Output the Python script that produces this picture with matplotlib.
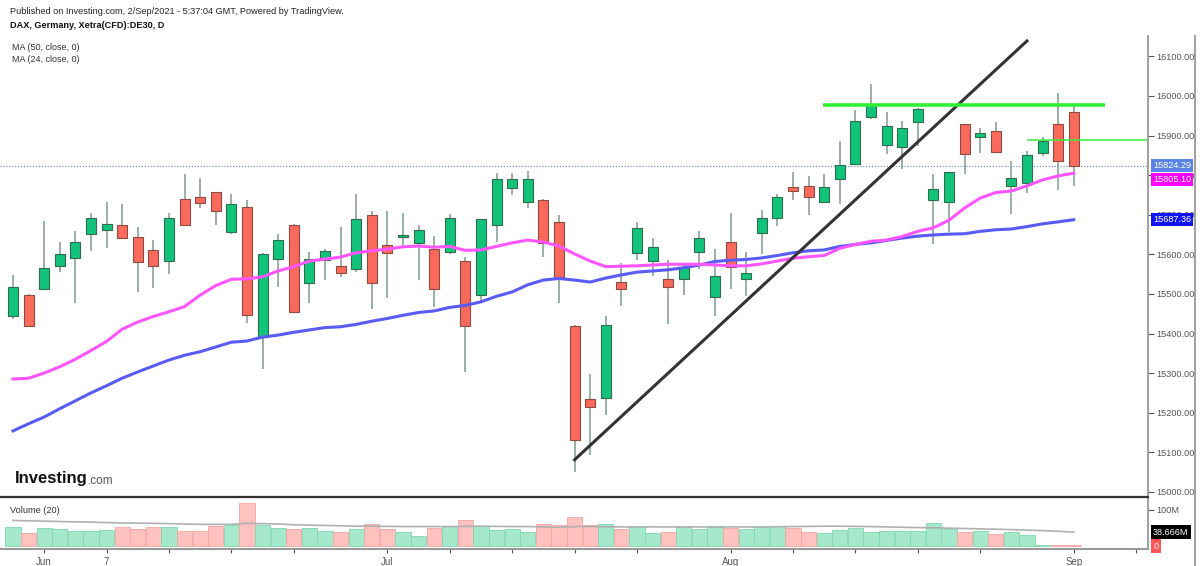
import matplotlib
matplotlib.use("Agg")
import matplotlib.pyplot as plt
from matplotlib.patches import Rectangle
from matplotlib.lines import Line2D
from matplotlib.transforms import blended_transform_factory

plt.rcParams['font.family'] = ['Liberation Sans', 'DejaVu Sans']

# daily DAX candles, 28 May .. 1 Sep 2021
opens = [15443, 15497, 15513, 15571, 15591, 15651, 15661, 15674, 15643, 15610,
         15583, 15740, 15744, 15757, 15656, 15719, 15391, 15588, 15674, 15527,
         15585, 15571, 15564, 15699, 15624, 15644, 15628, 15614, 15605, 15583,
         15496, 15674, 15768, 15733, 15737, 15682, 15420, 15234, 15238, 15531,
         15604, 15584, 15537, 15537, 15607, 15493, 15631, 15537, 15653, 15691,
         15771, 15773, 15733, 15790, 15828, 15948, 15876, 15872, 15935, 15736,
         15733, 15929, 15896, 15912, 15773, 15780, 15855, 15929, 15959]
highs = [15548, 15499, 15684, 15631, 15658, 15705, 15732, 15728, 15668, 15636,
         15704, 15802, 15792, 15758, 15752, 15736, 15604, 15651, 15676, 15607,
         15613, 15668, 15752, 15710, 15710, 15705, 15674, 15646, 15702, 15593,
         15690, 15806, 15806, 15811, 15740, 15700, 15422, 15298, 15444, 15579,
         15682, 15641, 15586, 15577, 15660, 15613, 15704, 15607, 15712, 15752,
         15808, 15798, 15802, 15886, 15965, 16030, 15960, 15938, 15969, 15803,
         15808, 15930, 15920, 15933, 15836, 15861, 15897, 16007, 15980]
lows = [15436, 15416, 15513, 15556, 15477, 15609, 15615, 15638, 15506, 15514,
        15550, 15672, 15716, 15675, 15651, 15427, 15310, 15518, 15455, 15477,
        15535, 15542, 15556, 15461, 15489, 15618, 15535, 15468, 15600, 15304,
        15480, 15632, 15749, 15718, 15593, 15477, 15049, 15092, 15194, 15470,
        15586, 15545, 15424, 15497, 15563, 15444, 15512, 15495, 15601, 15672,
        15737, 15700, 15733, 15727, 15826, 15941, 15853, 15815, 15874, 15625,
        15657, 15802, 15857, 15855, 15702, 15754, 15848, 15763, 15773]
closes = [15518, 15420, 15566, 15601, 15632, 15692, 15676, 15640, 15581, 15570,
          15692, 15674, 15729, 15710, 15727, 15447, 15601, 15635, 15455, 15588,
          15609, 15554, 15690, 15528, 15603, 15649, 15662, 15512, 15692, 15420,
          15689, 15790, 15790, 15790, 15628, 15540, 15131, 15215, 15422, 15513,
          15667, 15618, 15518, 15567, 15641, 15544, 15569, 15554, 15693, 15744,
          15760, 15744, 15771, 15826, 15938, 15977, 15925, 15920, 15966, 15764,
          15807, 15853, 15906, 15859, 15794, 15851, 15886, 15836, 15824.29]

ma50 = [15154, 15172, 15189, 15210, 15230, 15250, 15268, 15287, 15303, 15318,
        15333, 15345, 15354, 15366, 15378, 15381, 15391, 15396, 15403, 15409,
        15415, 15417, 15423, 15431, 15438, 15446, 15453, 15457, 15466, 15471,
        15480, 15494, 15505, 15523, 15535, 15539, 15535, 15530, 15540, 15548,
        15555, 15558, 15561, 15566, 15573, 15582, 15585, 15587, 15591, 15597,
        15604, 15609, 15611, 15620, 15625, 15629, 15635, 15641, 15646, 15649,
        15651, 15652, 15658, 15662, 15664, 15670, 15677, 15682, 15687.36]
ma24 = [15285, 15287, 15300, 15316, 15335, 15357, 15380, 15411, 15429, 15443,
        15455, 15468, 15497, 15521, 15537, 15538, 15543, 15558, 15569, 15583,
        15588, 15593, 15604, 15609, 15613, 15619, 15621, 15618, 15620, 15610,
        15611, 15620, 15629, 15636, 15631, 15621, 15601, 15583, 15569, 15570,
        15571, 15573, 15575, 15575, 15575, 15573, 15571, 15571, 15576, 15583,
        15590, 15594, 15597, 15615, 15625, 15633, 15636, 15645, 15658, 15667,
        15686, 15717, 15742, 15756, 15760, 15773, 15788, 15798, 15805.10]

# volume in millions, and its 20-day average
volume = [54, 35, 51, 47.6, 42.8, 42.8, 45.6, 52.3, 48.5, 54,
          54, 42.8, 42.8, 55, 59, 118, 57, 50.4, 48.5, 50.4,
          42.8, 40, 47.6, 60, 48.5, 40, 28.5, 50.4, 56, 73,
          56, 45.6, 47.6, 40, 60, 57, 80, 57, 62, 48.5,
          52, 36, 40, 52, 48.5, 56, 51, 48.5, 52, 56,
          51, 40, 37, 45.6, 50.4, 40, 42.8, 42.8, 42.8, 63,
          48.5, 40, 41, 34, 39, 31.4, 2, 1.5, 1.5]
vol_ma = [71, 70, 69, 68, 67, 66.5, 65, 64, 63.5, 63,
          62, 61, 60, 60, 60, 63, 62, 61, 59, 58,
          57, 56, 55, 55, 54.5, 54, 54, 54, 54, 54.5,
          55, 54.5, 54, 54, 53, 52, 54, 54, 53.5, 53,
          53, 53, 53, 53, 53, 53, 53, 53, 53, 53.5,
          54, 54.5, 55, 55, 54.5, 54, 53, 52, 51, 50.5,
          49.5, 48.5, 47.5, 46.6, 45.5, 44, 42.8, 40.8, 38.666]

tick_pos = [2, 6, 10, 14, 18, 24, 28, 32, 36, 40, 46, 50, 54, 58, 62, 68, 72]
tick_lab = {2: 'Jun', 6: '7', 24: 'Jul', 46: 'Aug', 68: 'Sep'}

W, H = 1200, 566
fig = plt.figure(figsize=(W / 100, H / 100), dpi=100)


def box(x0, y0, x1, y1):
    return [x0 / W, 1 - y1 / H, (x1 - x0) / W, (y1 - y0) / H]


ax = fig.add_axes(box(0, 36, 1148, 497))
axv = fig.add_axes(box(0, 497, 1148, 549), sharex=ax)

green, red = '#12c47b', '#fa6a5c'
for i in range(len(opens)):
    o, h, l, c = opens[i], highs[i], lows[i], closes[i]
    up = c >= o
    ax.vlines(i, l, h, color='#7d9b8a', lw=1.1, zorder=2)
    bot = min(o, c)
    hgt = max(abs(c - o), 2.5)
    ax.add_patch(Rectangle((i - 0.32, bot), 0.64, hgt,
                           facecolor=green if up else red,
                           edgecolor='#2f6b4c' if up else '#8c4a40',
                           lw=0.8, zorder=3))

x = list(range(len(opens)))
ax.plot(x, ma50, color='#5a5af5', lw=2.2, zorder=4)
ax.plot(x, ma24, color='#ff55ff', lw=2.2, zorder=4)

# drawn lines
ax.plot([36, 65], [15081, 16139], color='#333333', lw=2.2, zorder=5)
ax.hlines(15978, 51.9, 70, color='#33ee33', lw=2.6, zorder=5)
ax.hlines(15888, 65, 72.7, color='#33ee33', lw=1.1, zorder=5)
ax.axhline(15824.29, color='#5b7fdb', ls=':', lw=0.8, zorder=1)

ax.set_xlim(-0.83, 72.76)
ax.set_ylim(14987, 16151.5)
for s in ['left', 'top', 'bottom']:
    ax.spines[s].set_visible(False)
ax.spines['right'].set_color('#999999')
ax.spines['right'].set_linewidth(1.3)
ax.yaxis.tick_right()
ax.set_yticks(range(15000, 16101, 100))
ax.set_yticklabels(['%.2f' % v for v in range(15000, 16101, 100)])
ax.tick_params(axis='y', labelsize=6.6, colors='#555555', length=4, pad=2)
ax.tick_params(axis='x', bottom=False, labelbottom=False)

# price badges (TradingView nudges overlapping ones apart)
tr = blended_transform_factory(ax.transAxes, ax.transData)
badges = [(15824.29, '15824.29', '#5b84e6'),
          (15789, '15805.10', '#ff00ff'),
          (15687.36, '15687.36', '#1414f0')]
for val, txt, bg in badges:
    ax.text(1.0045, val, txt, transform=tr, fontsize=6.6, color='white', va='center',
            ha='left', clip_on=False, zorder=10,
            bbox=dict(boxstyle='square,pad=0.22', fc=bg, ec='none'))

# volume panel
vcol = ['#a5e8cc' if closes[i] >= opens[i] else '#ffc2bf' for i in x]
ecol = ['#7fd8b0' if closes[i] >= opens[i] else '#f5a5a0' for i in x]
axv.bar(x, volume, width=0.98, color=vcol, edgecolor=ecol, lw=0.6)
axv.plot(x, vol_ma, color='#b0b0b0', lw=1.2)
axv.set_ylim(-8.3, 136)
axv.spines['left'].set_visible(False)
axv.spines['top'].set_color('#333333')
axv.spines['top'].set_linewidth(1.6)
axv.spines['bottom'].set_color('#999999')
axv.spines['bottom'].set_linewidth(1.5)
axv.spines['right'].set_color('#999999')
axv.spines['right'].set_linewidth(1.3)
axv.yaxis.tick_right()
axv.set_yticks([100])
axv.set_yticklabels(['100M'])
axv.tick_params(axis='y', labelsize=6.6, colors='#555555', length=4, pad=2)
axv.set_xticks(tick_pos)
axv.set_xticklabels([tick_lab.get(t, '') for t in tick_pos])
axv.tick_params(axis='x', labelsize=7, colors='#555555', length=3, pad=3)
trv = blended_transform_factory(axv.transAxes, axv.transData)
axv.text(1.0045, 38.666, '38.666M', transform=trv, fontsize=6.6, color='white',
         va='center', ha='left', clip_on=False, zorder=10,
         bbox=dict(boxstyle='square,pad=0.25', fc='black', ec='none'))
axv.text(1.0045, 0, '0', transform=trv, fontsize=6.6, color='white',
         va='center', ha='left', clip_on=False, zorder=10,
         bbox=dict(boxstyle='square,pad=0.25', fc='#ff5555', ec='none'))
axv.text(10 / 1148, 0.74, 'Volume (20)', transform=axv.transAxes, fontsize=6.6,
         color='#333333', va='center')

# frame line on the far right
fig.add_artist(Line2D([1195 / W, 1195 / W], [0, 1 - 36 / H], color='#999999', lw=1.3))

# header texts
fig.text(10 / W, 1 - 11 / H, 'Published on Investing.com, 2/Sep/2021 - 5:37:04 GMT, Powered by TradingView.',
         fontsize=6.6, color='#222222', va='center')
fig.text(10 / W, 1 - 26 / H, 'DAX, Germany, Xetra(CFD):DE30, D', fontsize=6.6,
         weight='bold', color='#111111', va='center')
fig.text(12 / W, 1 - 47 / H, 'MA (50, close, 0)', fontsize=6.5, color='#333333', va='center')
fig.text(12 / W, 1 - 59 / H, 'MA (24, close, 0)', fontsize=6.5, color='#333333', va='center')

# Investing.com logo
fig.text(15 / W, 1 - 479 / H, 'Investing', fontsize=12, weight='bold', color='#111111',
         va='center')
fig.text(88 / W, 1 - 481 / H, '.com', fontsize=8.5, color='#555555', va='center')

fig.savefig('out.png', dpi=100)
